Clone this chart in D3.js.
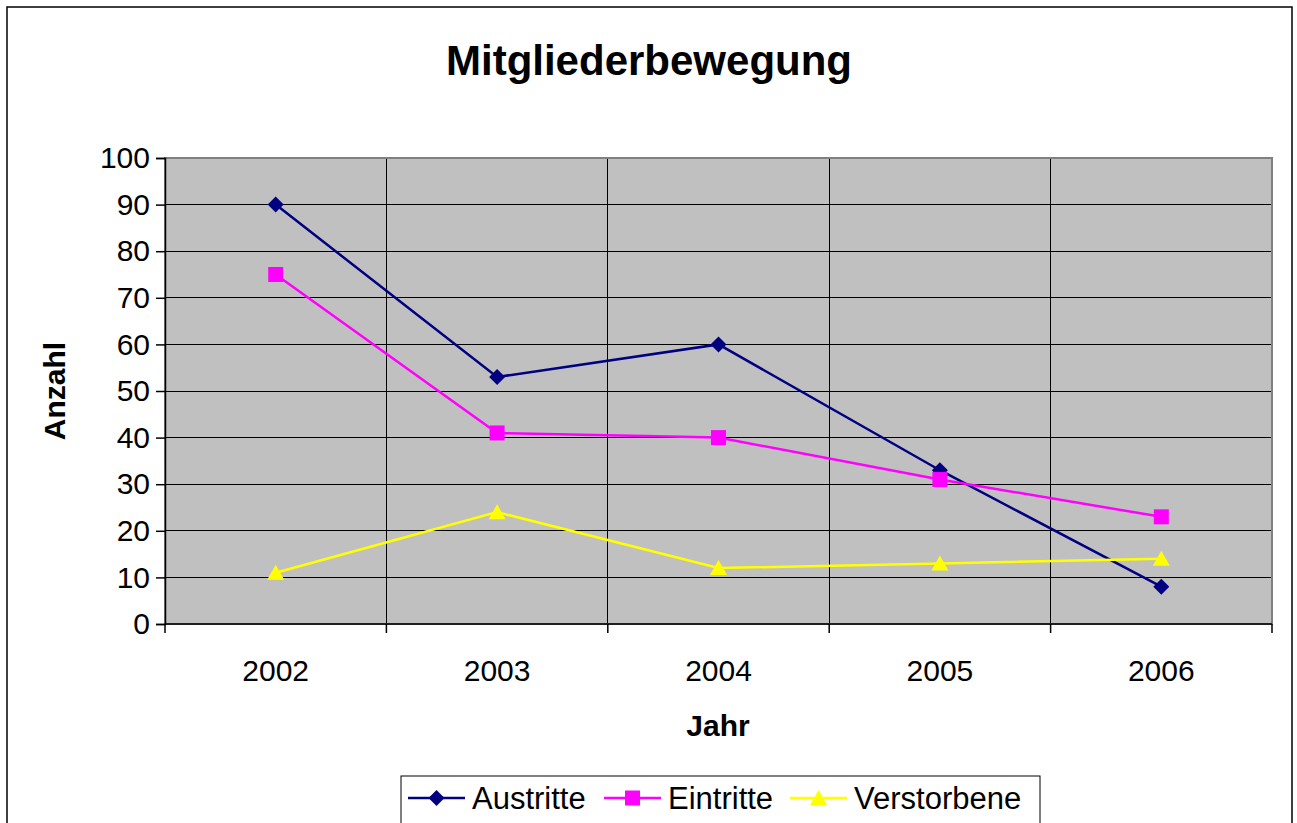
<!DOCTYPE html>
<html>
<head>
<meta charset="utf-8">
<script src="https://cdn.jsdelivr.net/npm/d3@7"></script>
<style>
  body { margin: 0; background: #fff; }
  text { font-family: "Liberation Sans", Arial, sans-serif; }
</style>
</head>
<body>
<div id="chart"></div>
<script>
var years = ['2002', '2003', '2004', '2005', '2006'];
var austritte = [90, 53, 60, 33, 8];
var eintritte = [75, 41, 40, 31, 23];
var verstorbene = [11, 24, 12, 13, 14];
var yTicks = [0, 10, 20, 30, 40, 50, 60, 70, 80, 90, 100];

var width = 1297, height = 823;
var plot = { left: 165, right: 1272, top: 158, bottom: 624 };

var svg = d3.select('#chart').append('svg')
    .attr('width', width).attr('height', height);

// outer frame
svg.append('rect')
    .attr('x', 7).attr('y', 7)
    .attr('width', 1285).attr('height', 830)
    .attr('fill', '#fff').attr('stroke', '#000').attr('stroke-width', 1.5);

var x = d3.scaleBand().domain(years).range([plot.left, plot.right]).padding(0);
var y = d3.scaleLinear().domain([0, 100]).range([plot.bottom, plot.top]);

// plot background
svg.append('rect')
    .attr('x', plot.left).attr('y', plot.top)
    .attr('width', plot.right - plot.left).attr('height', plot.bottom - plot.top)
    .attr('fill', '#c0c0c0');

// horizontal gridlines
svg.append('g').selectAll('line')
    .data(yTicks.slice(1))
    .enter().append('line')
    .attr('x1', plot.left).attr('x2', plot.right)
    .attr('y1', function(d) { return y(d); })
    .attr('y2', function(d) { return y(d); })
    .attr('stroke', '#000').attr('stroke-width', 1)
    .attr('shape-rendering', 'crispEdges');

// vertical gridlines between categories
var bounds = years.slice(1).map(function(d) { return x(d); });
svg.append('g').selectAll('line')
    .data(bounds)
    .enter().append('line')
    .attr('x1', function(d) { return d; }).attr('x2', function(d) { return d; })
    .attr('y1', plot.top).attr('y2', plot.bottom)
    .attr('stroke', '#000').attr('stroke-width', 1)
    .attr('shape-rendering', 'crispEdges');

// plot border
svg.append('rect')
    .attr('x', plot.left).attr('y', plot.top)
    .attr('width', plot.right - plot.left).attr('height', plot.bottom - plot.top)
    .attr('fill', 'none').attr('stroke', '#808080').attr('stroke-width', 2);

// y axis
var yAxis = d3.axisLeft(y).tickValues(yTicks).tickSize(9).tickPadding(6);
var gy = svg.append('g')
    .attr('transform', 'translate(' + plot.left + ',0)')
    .call(yAxis);
gy.select('.domain').attr('stroke', '#000').attr('stroke-width', 1.5);
gy.selectAll('.tick line').attr('stroke', '#000').attr('stroke-width', 1.5);
gy.selectAll('.tick text')
    .attr('font-size', 30).attr('fill', '#000')
    .style('font-family', '"Liberation Sans", Arial, sans-serif');

// x axis: ticks at category boundaries, labels at centres
var gx = svg.append('g').attr('transform', 'translate(0,' + plot.bottom + ')');
gx.append('line')
    .attr('x1', plot.left).attr('x2', plot.right)
    .attr('stroke', '#000').attr('stroke-width', 1.5);
gx.selectAll('line.tk')
    .data([plot.left].concat(bounds).concat([plot.right]))
    .enter().append('line').attr('class', 'tk')
    .attr('x1', function(d) { return d; }).attr('x2', function(d) { return d; })
    .attr('y1', 0).attr('y2', 9)
    .attr('stroke', '#000').attr('stroke-width', 1.5);
gx.selectAll('text')
    .data(years)
    .enter().append('text')
    .attr('x', function(d) { return x(d) + x.bandwidth() / 2; })
    .attr('y', 57)
    .attr('text-anchor', 'middle')
    .attr('font-size', 30)
    .text(function(d) { return d; });

// titles
svg.append('text')
    .attr('x', 649).attr('y', 75)
    .attr('text-anchor', 'middle')
    .attr('font-size', 42).attr('font-weight', 'bold')
    .text('Mitgliederbewegung');

svg.append('text')
    .attr('x', 718).attr('y', 736)
    .attr('text-anchor', 'middle')
    .attr('font-size', 30).attr('font-weight', 'bold')
    .text('Jahr');

svg.append('text')
    .attr('transform', 'translate(65,391) rotate(-90)')
    .attr('text-anchor', 'middle')
    .attr('font-size', 30).attr('font-weight', 'bold')
    .text('Anzahl');

// marker shapes (Excel style)
var diamond = { draw: function(ctx) {
    var r = 8;
    ctx.moveTo(0, -r); ctx.lineTo(r, 0); ctx.lineTo(0, r); ctx.lineTo(-r, 0); ctx.closePath();
} };
var square = { draw: function(ctx) {
    var r = 7.5;
    ctx.moveTo(-r, -r); ctx.lineTo(r, -r); ctx.lineTo(r, r); ctx.lineTo(-r, r); ctx.closePath();
} };
var triangle = { draw: function(ctx) {
    ctx.moveTo(0, -8); ctx.lineTo(8.5, 7); ctx.lineTo(-8.5, 7); ctx.closePath();
} };

// series
var series = [
    { name: 'Austritte', values: austritte, color: '#000080', symbol: diamond },
    { name: 'Eintritte', values: eintritte, color: '#ff00ff', symbol: square },
    { name: 'Verstorbene', values: verstorbene, color: '#ffff00', symbol: triangle }
];

var line = d3.line()
    .x(function(d, i) { return x(years[i]) + x.bandwidth() / 2; })
    .y(function(d) { return y(d); });

series.forEach(function(s) {
    svg.append('path')
        .datum(s.values)
        .attr('d', line)
        .attr('fill', 'none')
        .attr('stroke', s.color)
        .attr('stroke-width', 2.5);
});

series.forEach(function(s) {
    svg.append('g').selectAll('path')
        .data(s.values)
        .enter().append('path')
        .attr('d', d3.symbol().type(s.symbol))
        .attr('transform', function(d, i) {
            return 'translate(' + (x(years[i]) + x.bandwidth() / 2) + ',' + y(d) + ')';
        })
        .attr('fill', s.color);
});

// legend
var legend = svg.append('g');
legend.append('rect')
    .attr('x', 401).attr('y', 776)
    .attr('width', 639).attr('height', 60)
    .attr('fill', '#fff').attr('stroke', '#000').attr('stroke-width', 1);

var legendX = [408, 604, 790];
series.forEach(function(s, i) {
    var g = legend.append('g').attr('transform', 'translate(' + legendX[i] + ',798)');
    g.append('line')
        .attr('x1', 0).attr('x2', 57)
        .attr('stroke', s.color).attr('stroke-width', 2.5);
    g.append('path')
        .attr('d', d3.symbol().type(s.symbol))
        .attr('transform', 'translate(28.5,0)')
        .attr('fill', s.color);
    g.append('text')
        .attr('x', 64).attr('y', 11)
        .attr('font-size', 31)
        .text(s.name);
});
</script>
</body>
</html>
